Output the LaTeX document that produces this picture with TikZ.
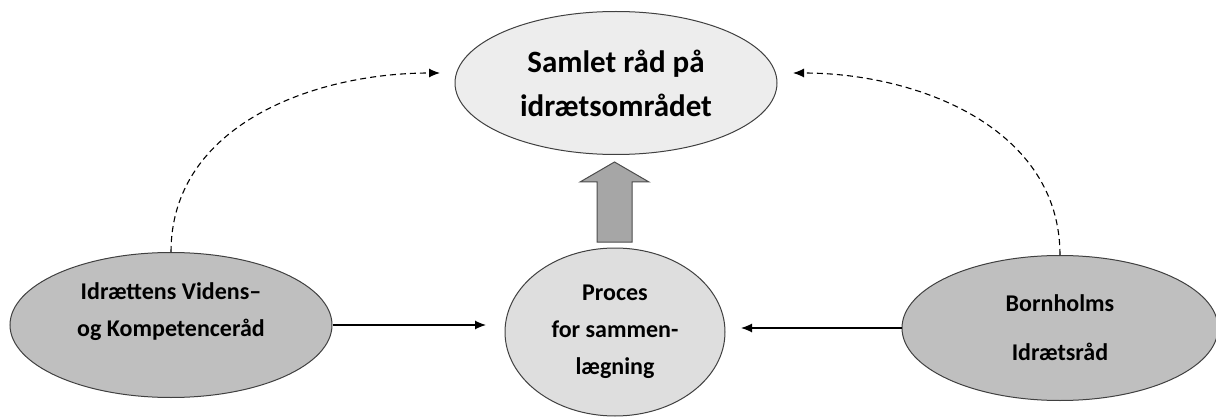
\documentclass[tikz,border=0pt]{standalone}
\usepackage{fontspec}
\setmainfont{Carlito}
\usepackage{tikz}
\usetikzlibrary{arrows.meta}
\usetikzlibrary{shapes.geometric}

\begin{document}
\begin{tikzpicture}[x=1pt,y=-1pt,>={Latex[length=11pt,width=9pt]},
    council/.style={ellipse,draw=black!75,line width=1pt,inner sep=0pt,align=center,
        font=\bfseries\fontsize{24}{37}\selectfont}]
            \useasboundingbox (0,0) rectangle (1216,417);

            \node[council,fill=black!7,minimum width=322pt,minimum height=143pt,
                font=\bfseries\fontsize{31}{44}\selectfont] (samlet) at (616,83) {Samlet råd på\\idrætsområdet};
            \node[council,fill=black!25,minimum width=322pt,minimum height=145pt] (viden) at (171,325) {Idrættens Videns–\\og Kompetenceråd\\[-6pt]};
            \node[council,fill=black!13,minimum width=220pt,minimum height=168pt] (proces) at (615,332) {Proces\\for sammen-\\lægning};
            \node[council,fill=black!25,minimum width=316pt,minimum height=145pt,
                font=\bfseries\fontsize{24}{49}\selectfont] (bornholm) at (1060,328) {Bornholms\\Idrætsråd};

            %%%%%%%%%%%%%%%%
            \filldraw [draw=black!70,fill=black!35,line width=1pt] (597,242)--(597,182)--(580,182)--(614.5,162)--(649,182)--(632,182)--(632,242)--cycle;
            %%%%%%%%%%%%%%%%

            \coordinate (vidend) at (440,73);
            \coordinate (borend) at (793,73);
            \coordinate (vidin) at (486,325);
            \coordinate (borin) at (741,328);

            \draw [line width=1.1pt] (viden.north) edge[out=90,in=180,dash pattern=on 6pt off 4pt,->] (vidend);
            \draw [line width=1.1pt] (bornholm.north) edge[out=90,in=0,dash pattern=on 6pt off 4pt,->] (borend);
            \draw [line width=1.2pt] (viden.east) edge[->] (vidin);
            \draw [line width=1.2pt] (bornholm.west) edge[->] (borin);
        \end{tikzpicture}
\end{document}
